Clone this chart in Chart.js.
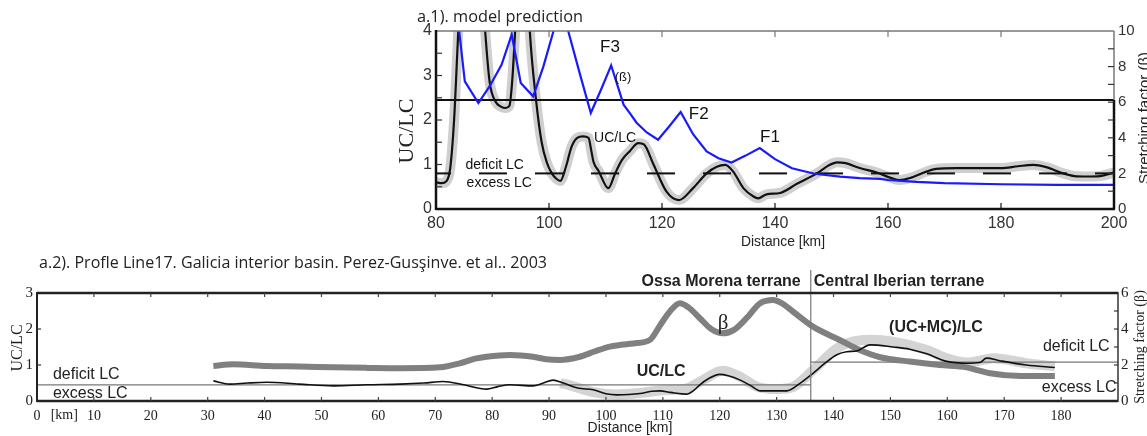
<!DOCTYPE html>
<html>
<head>
<meta charset="utf-8">
<title>UC/LC profiles</title>
<script src="https://cdn.jsdelivr.net/npm/chart.js@4.4.1/dist/chart.umd.min.js"></script>
<style>
  html, body { margin: 0; padding: 0; background: #fff; }
  body { position: relative; width: 1147px; height: 436px; overflow: hidden; }
  canvas { position: absolute; left: 0; }
  #topChart { top: 0; width: 1147px; height: 250px; }
  #botChart { top: 250px; width: 1147px; height: 186px; }
</style>
</head>
<body>
<canvas id="topChart" width="1147" height="250"></canvas>
<canvas id="botChart" width="1147" height="186"></canvas>
<script>
// a.1) model prediction, [km, value]
const topUcLc = [[80,0.6],[81,0.58],[81.8,0.62],[82.5,0.9],[83.2,2.0],[83.8,3.6],[84.5,5.5],[86.3,7.5],[88.2,5.0],
  [88.7,4.0],[89.5,2.85],[90.5,2.42],[91.5,2.3],[92.3,2.27],[93,2.32],[93.5,2.9],[94,4.0],[95.3,7.5],[96.6,4.0],
  [97.7,2.46],[98.7,1.5],[99.6,1.05],[100.5,0.8],[101.3,0.68],[102,0.63],[103,0.95],[104,1.4],[105,1.6],[106,1.63],
  [107,1.6],[107.5,1.3],[107.9,1.05],[108.8,0.85],[110.5,0.47],[111.7,0.8],[112.9,1.1],[114.3,1.3],[115.8,1.48],
  [116.8,1.45],[118.5,1.0],[120.8,0.39],[123,0.2],[125.5,0.47],[127.9,0.8],[129.7,0.95],[131.2,0.99],[132.6,0.84],
  [134.4,0.47],[136.2,0.28],[137,0.24],[138.5,0.33],[140.9,0.36],[143.8,0.56],[147.4,0.8],[149.5,0.98],[151,1.05],
  [152.5,1.03],[155,0.92],[158,0.82],[160.5,0.7],[162.1,0.65],[164,0.7],[166.8,0.84],[168.5,0.9],[172,0.92],
  [176,0.92],[180,0.92],[183,0.96],[185.7,0.99],[188,0.94],[191,0.8],[193,0.74],[195.2,0.73],[197.5,0.74],[200,0.82]];
const topBeta = [[83.6,13],[84.1,10],[85.1,7.17],[87.5,5.95],[89.5,6.9],[91.6,8.1],[93.4,9.8],[95,7.08],[97.2,6.33],
  [99,8.0],[100.8,10],[102,11.5],[103.4,10],[105.5,7.55],[107.4,5.39],[109.2,6.7],[111,8.07],[113.2,5.86],[114.3,5.39],
  [115.5,4.85],[117.3,4.3],[119.3,3.89],[121.3,4.65],[123.3,5.45],[125.5,4.2],[127.9,3.23],[130,2.85],[132.3,2.61],
  [134.8,3.0],[137.3,3.42],[140,2.8],[143,2.29],[147,1.98],[151.5,1.82],[155,1.74],[158.6,1.69],[160,1.63],
  [165,1.52],[170,1.45],[180,1.39],[190,1.36],[200,1.35]];
const topDeficitLevel = 0.8;
const topSolidLevel = 2.45;
const topXTicks = [80, 100, 120, 140, 160, 180, 200];
const topUcTicks = [0, 1, 2, 3, 4];
const topBetaTicks = [0, 2, 4, 6, 8, 10];

// a.2) Line17 profile, [km, value]
const botUcLc = [[31,0.56],[33.9,0.47],[37,0.5],[40.4,0.52],[46,0.47],[52.1,0.42],[58,0.45],[63.8,0.47],[68,0.5],
  [71.4,0.54],[75,0.45],[79,0.33],[81,0.4],[83.1,0.45],[87.2,0.42],[89,0.5],[90.7,0.58],[92.5,0.5],[95,0.36],
  [97.8,0.31],[100,0.2],[101.9,0.17],[104,0.18],[106,0.21],[108,0.27],[109.5,0.28],[111.3,0.24],[114.2,0.19],
  [115.5,0.3],[116.5,0.45],[118,0.62],[120,0.74],[121.5,0.7],[123.6,0.58],[125.5,0.42],[127.1,0.28],[131.8,0.28],
  [134.1,0.49],[136.4,0.77],[138.5,1.05],[140.5,1.28],[142.3,1.37],[144.1,1.39],[146.4,1.56],[150.5,1.5],
  [153.4,1.44],[156.4,1.31],[159.9,1.1],[163.4,1.05],[165.7,1.07],[166.9,1.19],[169.2,1.12],[173.9,1.0],[178.9,0.93]];
const botHalo = [[92,0.5],[94,0.42],[98,0.24],[102,0.18],[106,0.22],[110,0.3],[114,0.34],
  [117,0.58],[120.5,0.84],[123.5,0.68],[126.5,0.4],[130,0.33],[133,0.4],[136.4,0.86],[141.1,1.51],[146.4,1.7],
  [150.5,1.65],[156.4,1.42],[159.9,1.19],[163.4,1.07],[166.5,1.15],[168.1,1.19],[173.9,1.05],[178.9,0.96]];
const botBeta = [[31,1.94],[34.5,2.04],[40.4,1.94],[46,1.92],[52,1.87],[58,1.84],[63.8,1.82],[70.8,1.87],[74.3,2.09],
  [77,2.35],[79,2.46],[83.1,2.56],[87.2,2.46],[89.5,2.32],[91.9,2.28],[95.4,2.46],[98,2.75],[100.7,3.02],[104.8,3.2],
  [107.7,3.39],[109.5,4.2],[111.3,5.0],[113,5.43],[114.5,5.2],[116.5,4.6],[118.5,4.0],[120.5,3.76],[122.5,3.95],
  [124.7,4.6],[127.1,5.43],[129.4,5.61],[130.8,5.45],[132.9,4.96],[136.4,4.13],[141.1,3.39],[144.6,2.83],
  [148.2,2.43],[153.4,2.19],[158.7,2.0],[163.4,1.87],[165.5,1.7],[167.5,1.54],[172.8,1.39],[178.9,1.39]];
const botLevelOssa = 0.45;
const botLevelIberian = 1.08;
const terraneBoundaryKm = 136;
const botXTicks = [0, 10, 20, 30, 40, 50, 60, 70, 80, 90, 100, 110, 120, 130, 140, 150, 160, 170, 180];
const botUcTicks = [0, 1, 2, 3];
const botBetaTicks = [0, 1, 2, 3, 4, 5, 6];

const SANS = '"Liberation Sans", Arial, sans-serif';
const SERIF = '"Liberation Serif", "Times New Roman", serif';
const MYRIAD = '"Open Sans", sans-serif';

function pts(pairs) { return pairs.map(p => ({ x: p[0], y: p[1] })); }
function useTicks(values) { return scale => { scale.ticks = values.map(v => ({ value: v })); }; }
function fixSize(prop, size) { return scale => { scale[prop] = size; }; }

function txt(ctx, s, x, y, font, align, maxW) {
  ctx.font = font;
  ctx.textAlign = align || 'center';
  ctx.textBaseline = 'middle';
  if (maxW) ctx.fillText(s, x, y, maxW); else ctx.fillText(s, x, y);
}
function vtxt(ctx, s, x, y, font) {
  ctx.save();
  ctx.translate(x, y);
  ctx.rotate(-Math.PI / 2);
  txt(ctx, s, 0, 0, font);
  ctx.restore();
}
function line(ctx, x1, y1, x2, y2, w, color) {
  ctx.lineWidth = w;
  ctx.strokeStyle = color;
  ctx.beginPath();
  ctx.moveTo(x1, y1);
  ctx.lineTo(x2, y2);
  ctx.stroke();
}
// inward tick marks
function xMarks(ctx, scale, a, values, len, topColor, botColor) {
  values.forEach(v => {
    const px = scale.getPixelForValue(v);
    line(ctx, px, a.bottom, px, a.bottom - len, 1.2, botColor);
    line(ctx, px, a.top, px, a.top + len, 1.2, topColor);
  });
}
function yMarks(ctx, scale, a, values, len, side, color) {
  const x0 = side === 'left' ? a.left : a.right;
  const dir = side === 'left' ? 1 : -1;
  values.forEach(v => {
    const py = scale.getPixelForValue(v);
    line(ctx, x0, py, x0 + dir * len, py, 1.2, color);
  });
}

const topDecor = {
  id: 'topDecor',
  afterDraw(chart) {
    const { ctx, chartArea: a, scales: { x, y, y1 } } = chart;
    const ySolid = y.getPixelForValue(topSolidLevel);
    ctx.save();
    // frame: upper part thin grey, lower part black
    line(ctx, a.left, a.top, a.right, a.top, 1.5, '#777');
    line(ctx, a.right, a.top, a.right, ySolid, 1.5, '#777');
    line(ctx, a.left, a.top - 1, a.left, a.bottom + 1, 2.5, '#111');
    line(ctx, a.left, a.bottom, a.right + 1, a.bottom, 2.5, '#111');
    line(ctx, a.right, ySolid, a.right, a.bottom, 2.5, '#111');

    xMarks(ctx, x, a, topXTicks.slice(1, -1), 6, '#777', '#111');
    const halfSteps = topUcTicks.flatMap(v => [v, v + 0.5]).filter(v => v > 0 && v < 4);
    yMarks(ctx, y, a, halfSteps, 6, 'left', '#333');
    const betaSteps = topBetaTicks.flatMap(v => [v, v + 1]).filter(v => v > 0 && v < 10);
    yMarks(ctx, y1, a, betaSteps, 6, 'right', '#333');

    ctx.fillStyle = '#222';
    txt(ctx, 'a.1). model prediction', 417, 17, '17px ' + MYRIAD, 'left', 166);
    txt(ctx, 'Distance [km]', 783, 242, '14px ' + SANS, 'center', 84);
    vtxt(ctx, 'UC/LC', 407, 131, '22px ' + SERIF);
    vtxt(ctx, 'Stretching factor (\u03b2)', 1145, 118, '15px ' + SANS);

    const at = (km, v) => [x.getPixelForValue(km), y.getPixelForValue(v)];
    ctx.fillStyle = '#111';
    txt(ctx, 'F3', ...at(110.8, 3.63), '17px ' + SANS);
    txt(ctx, '(\u00df)', ...at(113.1, 2.96), '13px ' + SANS);
    txt(ctx, 'F2', ...at(126.5, 2.12), '17px ' + SANS);
    txt(ctx, 'F1', ...at(139.1, 1.6), '17px ' + SANS);
    txt(ctx, 'UC/LC', ...at(111.7, 1.6), '14px ' + SANS);
    txt(ctx, 'deficit LC', ...at(90.4, 0.99), '14px ' + SANS);
    txt(ctx, 'excess LC', ...at(91.2, 0.59), '14px ' + SANS);
    ctx.restore();
  }
};

const botDecor = {
  id: 'botDecor',
  afterDraw(chart) {
    const { ctx, chartArea: a, scales: { x, y, y1 } } = chart;
    const xb = x.getPixelForValue(terraneBoundaryKm);
    ctx.save();
    line(ctx, xb, a.top - 23, xb, a.bottom, 1.2, '#777');
    line(ctx, a.left, a.top, a.right, a.top, 2.5, '#222');
    line(ctx, a.left, a.bottom, a.right, a.bottom, 2.5, '#222');
    line(ctx, a.left, a.top - 1, a.left, a.bottom + 1, 2, '#222');
    line(ctx, a.right, a.top - 1, a.right, a.bottom + 1, 1.5, '#333');

    xMarks(ctx, x, a, botXTicks.slice(1), 4, '#444', '#444');
    yMarks(ctx, y, a, botUcTicks.slice(1, -1), 4, 'left', '#333');
    yMarks(ctx, y1, a, botBetaTicks.slice(1, -1), 4, 'right', '#333');

    ctx.fillStyle = '#222';
    txt(ctx, 'a.2). Profle Line17. Galicia interior basin. Perez-Gus\u015finve. et al.. 2003', 39, 13, '17px ' + MYRIAD, 'left', 508);
    txt(ctx, 'Ossa Morena terrane', xb - 10, a.top - 11, 'bold 16px ' + SANS, 'right');
    txt(ctx, 'Central Iberian terrane', xb + 3, a.top - 11, 'bold 16px ' + SANS, 'left');
    txt(ctx, 'Distance [km]', 630, 178, '14px ' + SANS);
    txt(ctx, '[km]', x.getPixelForValue(4.8), 165, '14px ' + SERIF);
    vtxt(ctx, 'UC/LC', 18, 98, '16px ' + SERIF);
    vtxt(ctx, 'Stretching factor (\u03b2)', 1140, 97, '14px ' + SERIF);

    const at = (km, v) => [x.getPixelForValue(km), y.getPixelForValue(v)];
    txt(ctx, '\u03b2', x.getPixelForValue(120.6), y1.getPixelForValue(4.33), '21px ' + SERIF);
    txt(ctx, 'UC/LC', ...at(109.7, 0.81), 'bold 16px ' + SANS);
    txt(ctx, '(UC+MC)/LC', ...at(158, 2.03), 'bold 16px ' + SANS);
    txt(ctx, 'deficit LC', ...at(2.8, 0.72), '16px ' + SANS, 'left');
    txt(ctx, 'excess LC', ...at(2.8, 0.2), '16px ' + SANS, 'left');
    txt(ctx, 'deficit LC', ...at(176.8, 1.5), '16px ' + SANS, 'left');
    txt(ctx, 'excess LC', ...at(176.6, 0.36), '16px ' + SANS, 'left');
    ctx.restore();
  }
};

function tickFont(family, size) { return { family: family, size: size }; }

new Chart(document.getElementById('topChart'), {
  type: 'line',
  data: {
    datasets: [
      { data: pts(topBeta), yAxisID: 'y1', borderColor: '#1a1aff', borderWidth: 2.2, tension: 0, order: 0 },
      { data: pts(topUcLc), yAxisID: 'y', borderColor: '#111', borderWidth: 2.2, cubicInterpolationMode: 'monotone', order: 1 },
      { data: pts([[topXTicks[0], topDeficitLevel], [topXTicks[topXTicks.length - 1], topDeficitLevel]]), yAxisID: 'y',
        borderColor: '#111', borderWidth: 2, borderDash: [28, 28], borderDashOffset: 13, order: 2 },
      { data: pts([[topXTicks[0], topSolidLevel], [topXTicks[topXTicks.length - 1], topSolidLevel]]), yAxisID: 'y',
        borderColor: '#111', borderWidth: 2.2, order: 2 },
      { data: pts(topUcLc), yAxisID: 'y', borderColor: '#cfcfcf', borderWidth: 10, cubicInterpolationMode: 'monotone',
        borderJoinStyle: 'round', borderCapStyle: 'round', order: 5 }
    ]
  },
  options: {
    responsive: false,
    animation: false,
    layout: { padding: { top: 31 } },
    elements: { point: { radius: 0 }, line: { capBezierPoints: false } },
    datasets: { line: { clip: 0 } },
    plugins: { legend: { display: false }, tooltip: { enabled: false } },
    scales: {
      x: {
        type: 'linear', min: 80, max: 200,
        afterBuildTicks: useTicks(topXTicks), afterFit: fixSize('height', 41),
        grid: { display: false, drawTicks: false }, border: { display: false },
        ticks: { font: tickFont(SANS, 16), color: '#333', padding: 5, maxRotation: 0, autoSkip: false }
      },
      y: {
        position: 'left', min: 0, max: 4,
        afterBuildTicks: useTicks(topUcTicks), afterFit: fixSize('width', 436),
        grid: { display: false, drawTicks: false }, border: { display: false },
        ticks: { font: tickFont(SANS, 16), color: '#333', padding: 4 }
      },
      y1: {
        position: 'right', min: 0, max: 10,
        afterBuildTicks: useTicks(topBetaTicks), afterFit: fixSize('width', 33),
        grid: { display: false, drawTicks: false }, border: { display: false },
        ticks: { font: tickFont(SANS, 15), color: '#333', padding: 4 }
      }
    }
  },
  plugins: [topDecor]
});

new Chart(document.getElementById('botChart'), {
  type: 'line',
  data: {
    datasets: [
      { data: pts(botUcLc), yAxisID: 'y', borderColor: '#111', borderWidth: 1.6, cubicInterpolationMode: 'monotone', order: 0 },
      { data: pts(botBeta), yAxisID: 'y1', borderColor: '#808080', borderWidth: 6, cubicInterpolationMode: 'monotone',
        borderJoinStyle: 'round', borderCapStyle: 'butt', order: 1 },
      { data: pts([[0, botLevelOssa], [terraneBoundaryKm, botLevelOssa]]), yAxisID: 'y', borderColor: '#777', borderWidth: 1.2, order: 2 },
      { data: pts([[terraneBoundaryKm, botLevelIberian], [190, botLevelIberian]]), yAxisID: 'y', borderColor: '#777', borderWidth: 1.2, order: 2 },
      { data: pts(botHalo), yAxisID: 'y', borderColor: '#d4d4d4', borderWidth: 10, cubicInterpolationMode: 'monotone',
        borderJoinStyle: 'round', borderCapStyle: 'butt', order: 5 }
    ]
  },
  options: {
    responsive: false,
    animation: false,
    layout: { padding: { top: 43 } },
    elements: { point: { radius: 0 }, line: { capBezierPoints: false } },
    datasets: { line: { clip: 0 } },
    plugins: { legend: { display: false }, tooltip: { enabled: false } },
    scales: {
      x: {
        type: 'linear', min: 0, max: 190,
        afterBuildTicks: useTicks(botXTicks), afterFit: fixSize('height', 35),
        grid: { display: false, drawTicks: false }, border: { display: false },
        ticks: { font: tickFont(SERIF, 14), color: '#222', padding: 7, maxRotation: 0, autoSkip: false }
      },
      y: {
        position: 'left', min: 0, max: 3,
        afterBuildTicks: useTicks(botUcTicks), afterFit: fixSize('width', 37),
        grid: { display: false, drawTicks: false }, border: { display: false },
        ticks: { font: tickFont(SERIF, 15), color: '#222', padding: 4 }
      },
      y1: {
        position: 'right', min: 0, max: 6,
        afterBuildTicks: useTicks(botBetaTicks), afterFit: fixSize('width', 29),
        grid: { display: false, drawTicks: false }, border: { display: false },
        ticks: { font: tickFont(SERIF, 15), color: '#222', padding: 3 }
      }
    }
  },
  plugins: [botDecor]
});
</script>
</body>
</html>
